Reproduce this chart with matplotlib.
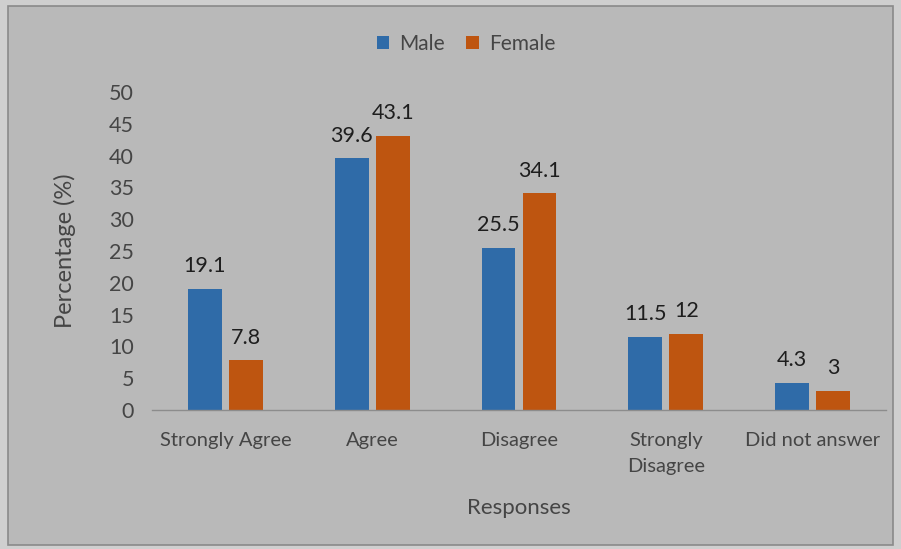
import matplotlib
matplotlib.use("Agg")
import matplotlib.pyplot as plt
from matplotlib.patches import Rectangle, Patch
import numpy as np

plt.rcParams['font.family'] = ['Lato', 'DejaVu Sans']

categories = ["Strongly Agree", "Agree", "Disagree", "Strongly\nDisagree", "Did not answer"]
male = [19.1, 39.6, 25.5, 11.5, 4.3]
female = [7.8, 43.1, 34.1, 12, 3]
yticks = [0, 5, 10, 15, 20, 25, 30, 35, 40, 45, 50]

bg = "#B9B9B9"
blue = "#2F6BA8"
orange = "#BE5510"
tick_col = "#454545"
label_col = "#1E1E1E"

W, H = 901, 549
fig = plt.figure(figsize=(W / 100, H / 100), dpi=100, facecolor="#CFCFCF")

# panel frame behind the chart
fig.patches.append(Rectangle((8 / W, 1 - 545 / H), (893 - 8) / W, (545 - 6) / H,
                             transform=fig.transFigure, facecolor=bg,
                             edgecolor="#8A8A8A", linewidth=1.2, zorder=-5))

ax = fig.add_axes([152 / W, 1 - 410 / H, 734 / W, 318 / H])
ax.set_zorder(2)
ax.set_facecolor("none")

x = np.arange(len(categories))
bw = 0.23
off = 0.14
b1 = ax.bar(x - off, male, bw, color=blue, label="Male", zorder=2)
b2 = ax.bar(x + off, female, bw, color=orange, label="Female", zorder=2)

for bars, vals in ((b1, male), (b2, female)):
    for rect, v in zip(bars, vals):
        ax.annotate(f"{v:g}", (rect.get_x() + rect.get_width() / 2, v),
                    xytext=(0, 9), textcoords="offset points",
                    ha="center", va="bottom", fontsize=15.5, color=label_col)

ax.set_xlim(-0.5, len(categories) - 0.5)
ax.set_ylim(0, 50)
ax.set_yticks(yticks)
ax.set_yticklabels([str(t) for t in yticks], fontsize=15.5, color=tick_col)
ax.set_xticks(x)
ax.set_xticklabels(categories, fontsize=14.5, color=tick_col, linespacing=1.65)
ax.tick_params(axis="both", length=0)
ax.tick_params(axis="y", pad=13)
ax.tick_params(axis="x", pad=16)
for s in ("top", "right", "left"):
    ax.spines[s].set_visible(False)
ax.spines["bottom"].set_color("#8C8C8C")
ax.spines["bottom"].set_linewidth(1.0)

ax.set_ylabel("Percentage (%)", fontsize=17, color=tick_col, labelpad=24)
ax.set_xlabel("Responses", fontsize=16, color=tick_col, labelpad=16)

handles = [Patch(facecolor=blue), Patch(facecolor=orange)]
fig.legend(handles, ["Male", "Female"], loc="center", bbox_to_anchor=(466 / W, 1 - 44 / H),
           ncol=2, frameon=False, fontsize=15, labelcolor=tick_col,
           handlelength=0.6, handleheight=0.6, handletextpad=0.5, columnspacing=1.0)

fig.savefig("out.png", dpi=100, facecolor=fig.get_facecolor())
